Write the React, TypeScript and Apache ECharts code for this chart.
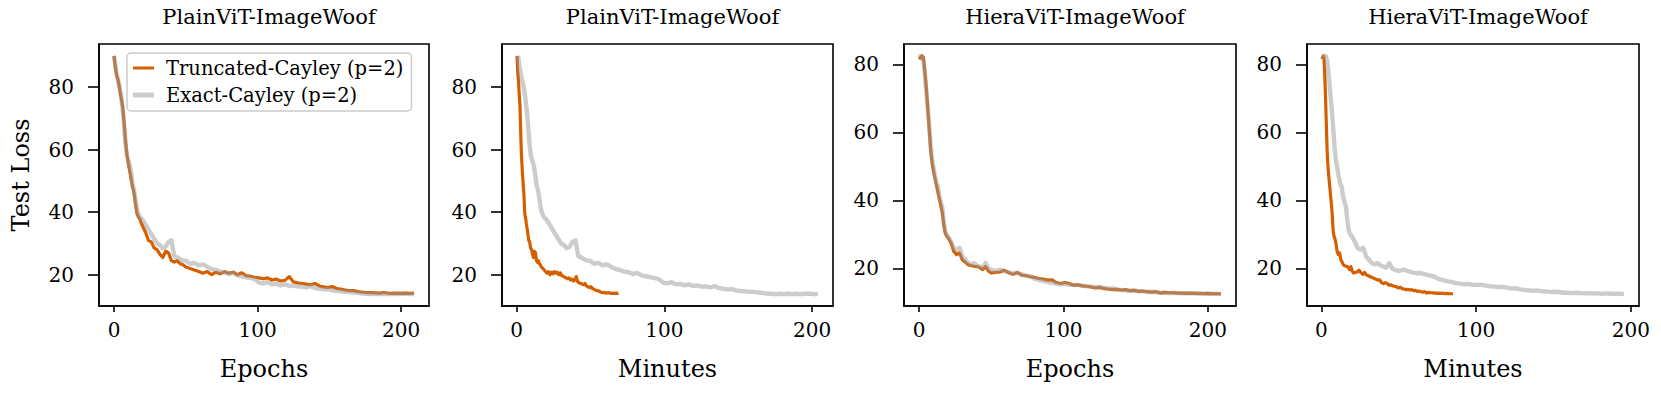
import React, { useEffect, useRef } from "react";
import * as echarts from "echarts";

// ---------------- data ----------------
const epochs = [
  0, 1, 2, 3, 4, 5, 6, 7, 8, 9, 10, 11, 12, 13, 14, 15, 16, 17, 18, 19, 20, 22, 24, 26, 28, 30, 32, 34, 36, 38, 40, 42,
  44, 46, 48, 50, 53, 56, 59, 62, 65, 68, 71, 74, 77, 80, 83, 86, 89, 92, 95, 98, 101, 104, 107, 110, 113, 116, 119,
  122, 125, 128, 131, 134, 137, 140, 143, 146, 149, 152, 155, 158, 161, 164, 167, 170, 173, 176, 179, 182, 185, 188,
  191, 194, 197, 200, 203, 206, 209,
];

const plainTruncLoss = [
  90.0, 86.0, 83.5, 82.0, 79.0, 76.5, 74.0, 69.0, 63.0, 58.5, 55.5, 53.0, 50.5, 48.0, 46.0, 42.5, 39.5, 38.5, 37.8,
  36.5, 35.5, 33.5, 31.0, 30.5, 28.5, 28.0, 26.5, 25.5, 27.5, 27.0, 24.5, 24.0, 24.5, 23.5, 23.2, 22.5, 22.0, 21.5,
  21.0, 20.5, 21.0, 20.0, 20.8, 20.3, 21.0, 20.5, 20.8, 20.0, 20.6, 19.7, 19.5, 19.2, 19.0, 18.7, 19.0, 18.3, 18.6,
  18.0, 18.2, 19.4, 17.7, 17.4, 17.2, 17.0, 16.8, 17.2, 16.4, 16.1, 15.9, 16.2, 15.6, 15.4, 15.1, 14.9, 14.9, 14.6,
  14.4, 14.3, 14.3, 14.2, 14.1, 14.3, 14.1, 14.0, 14.1, 14.0, 14.1, 14.0, 14.1,
];

const plainExactLoss = [
  90.0, 87.0, 84.0, 82.0, 80.0, 77.0, 73.0, 68.0, 62.0, 58.0, 56.5, 55.0, 52.0, 48.5, 47.0, 44.0, 41.0, 39.5, 38.5,
  38.0, 37.5, 36.0, 34.5, 33.0, 31.5, 30.0, 29.5, 28.5, 29.0, 30.5, 31.0, 26.0, 25.5, 25.0, 24.5, 24.5, 23.5, 23.8,
  23.0, 23.3, 22.5, 21.8, 21.5, 21.0, 20.8, 20.2, 20.6, 19.8, 19.5, 19.2, 19.0, 18.6, 17.5, 17.2, 17.6, 16.9, 17.1,
  16.6, 16.9, 16.4, 16.6, 16.2, 16.3, 15.9, 16.4, 15.7, 15.5, 15.3, 15.4, 15.0, 14.8, 14.7, 14.5, 14.6, 14.3, 14.2,
  14.0, 13.9, 13.8, 13.9, 13.8, 13.9, 13.8, 13.9, 13.8, 13.9, 13.9, 13.8, 13.8,
];

const hieraTruncLoss = [
  81.5, 82.0, 82.5, 82.0, 78.0, 73.0, 67.0, 61.0, 55.0, 51.0, 48.5, 46.5, 44.5, 42.5, 40.5, 38.5, 36.5, 33.0, 30.5,
  29.5, 29.0, 27.5, 25.0, 24.0, 24.5, 22.5, 21.8, 21.0, 20.8, 20.6, 20.5, 20.2, 19.6, 20.5, 19.2, 18.6, 18.8, 18.9,
  19.4, 18.7, 18.2, 18.8, 18.0, 17.8, 17.5, 17.3, 17.0, 16.8, 16.5, 16.6, 15.8, 15.5, 15.8, 15.5, 15.0, 15.1, 14.8,
  14.7, 14.5, 14.2, 14.4, 14.0, 13.9, 13.7, 13.8, 13.6, 13.7, 13.4, 13.5, 13.2, 13.3, 13.1, 13.0, 13.1, 12.7, 12.9,
  12.8, 12.8, 12.7, 12.7, 12.6, 12.7, 12.6, 12.6, 12.5, 12.6, 12.5, 12.5, 12.5,
];

const hieraExactLoss = [
  82.0, 82.5, 82.5, 81.0, 77.0, 72.0, 67.5, 62.0, 56.0, 52.0, 49.5, 47.0, 45.0, 44.0, 41.0, 39.5, 38.0, 34.0, 31.0,
  30.0, 29.5, 28.0, 26.0, 25.5, 26.0, 23.5, 22.5, 21.5, 21.2, 21.5, 20.8, 20.5, 20.2, 21.5, 20.0, 19.5, 19.2, 19.6,
  19.2, 18.8, 18.5, 18.6, 18.2, 17.9, 17.6, 16.9, 16.6, 16.2, 16.0, 15.7, 15.5, 15.3, 15.4, 15.1, 15.1, 15.1, 14.9,
  14.7, 14.6, 14.5, 14.5, 14.3, 14.0, 14.1, 13.8, 13.6, 13.5, 13.4, 13.5, 13.2, 13.2, 13.0, 13.1, 13.0, 12.8, 12.8,
  12.7, 12.8, 12.7, 12.6, 12.7, 12.6, 12.6, 12.5, 12.6, 12.5, 12.5, 12.5, 12.4,
];

// wall-clock minutes elapsed after the final (210th) epoch
const totalEpochs = 210;
const plainTruncMinutes = 69;
const plainExactMinutes = 204;
const hieraTruncMinutes = 85;
const hieraExactMinutes = 195.5;

const panelTitles = ["PlainViT-ImageWoof", "PlainViT-ImageWoof", "HieraViT-ImageWoof", "HieraViT-ImageWoof"];
const xAxisNames = ["Epochs", "Minutes", "Epochs", "Minutes"];
const seriesNames = ["Truncated-Cayley (p=2)", "Exact-Cayley (p=2)"];
const xTicks = [0, 100, 200];
const yTicks = [20, 40, 60, 80];

// ---------------- styling ----------------
const FONT = "DejaVu Serif";
const ORANGE = "#D55E00";
const GRAY = "#999999";
const gridLefts = [99, 502, 904, 1307];
const gridWidths = [330, 331, 332, 332];
const gridTop = 44;
const gridHeight = 262;

function byEpoch(loss: number[]) {
  return epochs.map((e, i) => [e, loss[i]]);
}
function byMinutes(loss: number[], totalMin: number) {
  return epochs.map((e, i) => [((e + 1) / totalEpochs) * totalMin, loss[i]]);
}
function padRange(vals: number[]) {
  const mn = Math.min(...vals);
  const mx = Math.max(...vals);
  const m = (mx - mn) * 0.05;
  return [mn - m, mx + m];
}

const panels = [
  { trunc: byEpoch(plainTruncLoss), exact: byEpoch(plainExactLoss) },
  { trunc: byMinutes(plainTruncLoss, plainTruncMinutes), exact: byMinutes(plainExactLoss, plainExactMinutes) },
  { trunc: byEpoch(hieraTruncLoss), exact: byEpoch(hieraExactLoss) },
  { trunc: byMinutes(hieraTruncLoss, hieraTruncMinutes), exact: byMinutes(hieraExactLoss, hieraExactMinutes) },
];

function buildOption() {
  const grids: any[] = [];
  const xAxes: any[] = [];
  const yAxes: any[] = [];
  const series: any[] = [];
  const titles: any[] = [];

  panels.forEach((p, i) => {
    const all = [...p.trunc, ...p.exact];
    const xr = padRange(all.map((d) => d[0]));
    const yr = padRange(all.map((d) => d[1]));
    grids.push({
      left: gridLefts[i],
      top: gridTop,
      width: gridWidths[i],
      height: gridHeight,
      show: true,
      borderColor: "#000",
      borderWidth: 1.6,
      backgroundColor: "transparent",
      containLabel: false,
      outerBoundsMode: "none",
    });
    titles.push({
      text: panelTitles[i],
      left: gridLefts[i] + gridWidths[i] / 2,
      top: 1,
      textAlign: "center",
      textStyle: { fontFamily: FONT, fontSize: 21, fontWeight: "normal", color: "#000" },
    });
    xAxes.push({
      type: "value",
      gridIndex: i,
      min: xr[0],
      max: xr[1],
      name: xAxisNames[i],
      nameLocation: "middle",
      nameGap: 51,
      nameTextStyle: { fontFamily: FONT, fontSize: 24, color: "#000" },
      axisLine: { show: true, onZero: false, lineStyle: { color: "#000", width: 1.6 } },
      axisTick: { show: true, length: 6, customValues: xTicks, lineStyle: { color: "#000", width: 1.6 } },
      axisLabel: { show: true, customValues: xTicks, margin: 14, fontFamily: FONT, fontSize: 20, color: "#000" },
      splitLine: { show: false },
    });
    yAxes.push({
      type: "value",
      gridIndex: i,
      min: yr[0],
      max: yr[1],
      name: i === 0 ? "Test Loss" : "",
      nameLocation: "middle",
      nameGap: 66,
      nameTextStyle: { fontFamily: FONT, fontSize: 24, color: "#000" },
      axisLine: { show: true, onZero: false, lineStyle: { color: "#000", width: 1.6 } },
      axisTick: { show: true, length: 11, customValues: yTicks, lineStyle: { color: "#000", width: 1.6 } },
      axisLabel: { show: true, customValues: yTicks, margin: 25, fontFamily: FONT, fontSize: 20, color: "#000" },
      splitLine: { show: false },
    });
    series.push({
      type: "line",
      name: seriesNames[0],
      xAxisIndex: i,
      yAxisIndex: i,
      data: p.trunc,
      showSymbol: false,
      symbol: "none",
      lineStyle: { color: ORANGE, width: 3.2, join: "round" },
      itemStyle: { color: ORANGE },
      z: 2,
      silent: true,
    });
    series.push({
      type: "line",
      name: seriesNames[1],
      xAxisIndex: i,
      yAxisIndex: i,
      data: p.exact,
      showSymbol: false,
      symbol: "none",
      lineStyle: { color: GRAY, width: 4.4, opacity: 0.5, join: "round" },
      itemStyle: { color: "#cccccc" },
      z: 3,
      silent: true,
    });
  });

  return {
    animation: false,
    backgroundColor: "#ffffff",
    title: titles,
    grid: grids,
    xAxis: xAxes,
    yAxis: yAxes,
    series,
    legend: {
      data: [
        { name: seriesNames[0], icon: "path://M0,0H21V3H0Z", itemStyle: { color: ORANGE, borderWidth: 0, opacity: 1 } },
        { name: seriesNames[1], icon: "path://M0,0H21V5H0Z", itemStyle: { color: "#cccccc", borderWidth: 0, opacity: 1 } },
      ],
      orient: "vertical",
      left: 127,
      top: 53,
      itemWidth: 21,
      itemHeight: 14,
      itemGap: 7,
      symbolKeepAspect: true,
      padding: [5, 8, 6, 6],
      backgroundColor: "rgba(255,255,255,0.8)",
      borderColor: "#cccccc",
      borderWidth: 1.5,
      borderRadius: 4,
      selectedMode: false,
      textStyle: { fontFamily: FONT, fontSize: 19.5, color: "#000", padding: [0, 0, 0, 7] },
      z: 10,
    },
  };
}

export default function App() {
  const ref = useRef<HTMLDivElement>(null);
  useEffect(() => {
    if (!ref.current) return;
    const chart = echarts.init(ref.current, undefined, { renderer: "svg" });
    chart.setOption(buildOption() as any);
    return () => chart.dispose();
  }, []);
  return (
    <div
      ref={ref}
      style={{ position: "fixed", left: 0, top: 0, width: 1661, height: 394, background: "#fff" }}
    />
  );
}
